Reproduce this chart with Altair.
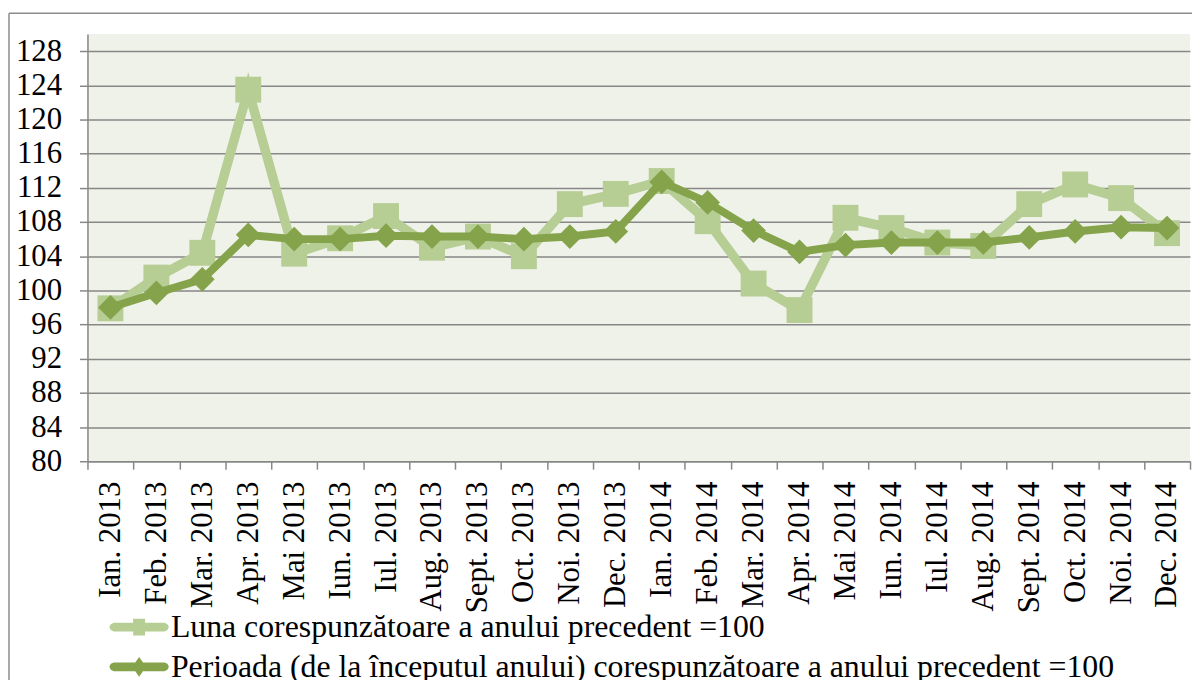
import altair as alt
import pandas as pd

months = ["Ian. 2013", "Feb. 2013", "Mar. 2013", "Apr. 2013", "Mai 2013", "Iun. 2013",
          "Iul. 2013", "Aug. 2013", "Sept. 2013", "Oct. 2013", "Noi. 2013", "Dec. 2013",
          "Ian. 2014", "Feb. 2014", "Mar. 2014", "Apr. 2014", "Mai 2014", "Iun. 2014",
          "Iul. 2014", "Aug. 2014", "Sept. 2014", "Oct. 2014", "Noi. 2014", "Dec. 2014"]

luna = [97.9, 101.5, 104.4, 123.5, 104.3, 106.1, 108.7, 105.0, 106.3, 104.0, 110.1, 111.3,
        112.8, 108.1, 100.8, 97.7, 108.5, 107.3, 105.6, 105.2, 110.1, 112.4, 110.8, 106.7]

perioada = [98.0, 99.7, 101.3, 106.5, 106.0, 106.0, 106.4, 106.3, 106.3, 106.0, 106.3, 106.9,
            112.7, 110.3, 107.0, 104.5, 105.3, 105.6, 105.6, 105.6, 106.2, 106.9, 107.4, 107.3]

series_names = ["Luna corespunzătoare a anului precedent =100",
                "Perioada (de la începutul anului) corespunzătoare a anului precedent =100"]

y_ticks = list(range(80, 129, 4))

LIGHT = "#b6cd94"
DARK = "#84a34a"
GRID = "#878787"
FONT = "Liberation Serif"
FS = 31

df_l = pd.DataFrame({"month": months, "value": luna, "series": series_names[0]})
df_p = pd.DataFrame({"month": months, "value": perioada, "series": series_names[1]})
df_all = pd.concat([df_l, df_p], ignore_index=True)

x_enc = alt.X("month:N", sort=months,
              scale=alt.Scale(type="band", paddingInner=0, paddingOuter=0),
              axis=alt.Axis(title=None, labelAngle=-90, tickBand="extent", ticks=True,
                            tickSize=8, tickWidth=1.5, tickColor=GRID,
                            domainColor=GRID, domainWidth=1.5,
                            labelFont=FONT, labelFontSize=FS, labelColor="black",
                            labelPadding=12, grid=False, labelOverlap=False))
y_enc = alt.Y("value:Q", scale=alt.Scale(domain=[80, 130], nice=False, zero=False),
              axis=alt.Axis(title=None, values=y_ticks, grid=True, gridColor=GRID,
                            gridWidth=1.5, domainColor=GRID, domainWidth=1.5,
                            tickColor=GRID, tickSize=8, tickWidth=1.5,
                            labelFont=FONT, labelFontSize=FS, labelColor="black",
                            labelPadding=18))

line_l = alt.Chart(df_l).mark_line(color=LIGHT, strokeWidth=9.5).encode(x=x_enc, y=y_enc)
pts_l = alt.Chart(df_l).mark_point(shape="square", filled=True, color=LIGHT, opacity=1,
                                   size=680).encode(x=x_enc, y=y_enc)
line_p = alt.Chart(df_p).mark_line(color=DARK, strokeWidth=8).encode(x=x_enc, y=y_enc)
pts_p = alt.Chart(df_p).mark_point(shape="diamond", filled=True, color=DARK, opacity=1,
                                   size=620).encode(x=x_enc, y=y_enc)

# legend symbols: line segment with marker (custom symbol paths)
bar_path = "M-2.55,-0.45L2.55,-0.45L2.85,-0.3L3,0L2.85,0.3L2.55,0.45L-2.55,0.45L-2.85,0.3L-3,0L-2.85,-0.3Z"
sym_l = bar_path + "M-0.6,-0.85L0.6,-0.85L0.6,0.85L-0.6,0.85Z"
sym_p = bar_path + "M0,-1L0.7,0L0,1L-0.7,0Z"

legend_layer = alt.Chart(df_all).mark_point(filled=True, opacity=1).encode(
    x=x_enc, y=y_enc,
    size=alt.value(0),
    color=alt.Color("series:N", scale=alt.Scale(domain=series_names, range=[LIGHT, DARK]),
                    legend=alt.Legend(title=None, orient="none", legendX=22, legendY=581,
                                      direction="vertical", symbolOpacity=1,
                                      symbolSize=400, symbolStrokeWidth=0,
                                      symbolOffset=14, labelOffset=16,
                                      labelFont=FONT, labelFontSize=32,
                                      labelColor="black", labelLimit=1200,
                                      rowPadding=8, padding=0)),
    shape=alt.Shape("series:N", scale=alt.Scale(domain=series_names, range=[sym_l, sym_p]))
)

frame_df = pd.DataFrame({"k": [0]})
frame_left = alt.Chart(frame_df).mark_rule(color="#8c8c8c", strokeWidth=1.5).encode(
    x=alt.value(-79), y=alt.value(-21), y2=alt.value(680))
frame_top = alt.Chart(frame_df).mark_rule(color="#8c8c8c", strokeWidth=1.5).encode(
    x=alt.value(-79), x2=alt.value(1120), y=alt.value(-21))

chart = alt.layer(frame_left, frame_top, line_l, pts_l, line_p, pts_p, legend_layer).properties(
    width=1110, height=430,
    padding={"left": 80, "top": 24, "right": 2, "bottom": 226},
    autosize=alt.AutoSizeParams(type="none"),
    background="white",
).configure_view(fill="#eff2e9", stroke=None)

chart.save("out.html", embed_options={"renderer": "svg", "actions": False})
